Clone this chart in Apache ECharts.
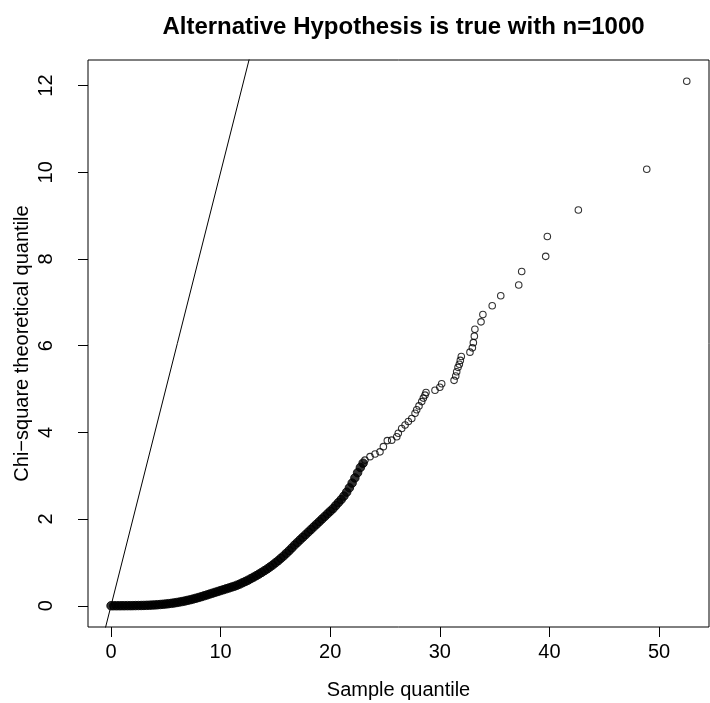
<!DOCTYPE html>
<html><head><meta charset="utf-8">
<script src="https://cdn.jsdelivr.net/npm/echarts@6/dist/echarts.min.js"></script>
<style>html,body{margin:0;padding:0;background:#fff}#c{width:710px;height:703px}</style>
</head><body><div id="c"></div>
<script>
const titleText = 'Alternative Hypothesis is true with n=1000';
const xName = 'Sample quantile';
const yName = 'Chi\u2212square theoretical quantile';
const xTicks = [0, 10, 20, 30, 40, 50];
const yTicks = [0, 2, 4, 6, 8, 10, 12];

// dense part of the Q-Q cloud (overlapping circles, read along the band)
const bandSample = [0,0.25,0.5,0.75,1,1.25,1.5,1.75,2,2.25,2.5,2.75,3,3.25,3.5,3.75,4,4.25,4.5,4.75,5,5.25,5.5,5.75,6,6.25,6.5,6.75,7,7.25,7.5,7.75,8,8.25,8.5,8.75,9,9.25,9.5,9.75,10,10.25,10.5,10.75,11,11.25,11.5,11.75,12,12.25,12.5,12.75,13,13.25,13.5,13.75,14,14.25,14.5,14.75,15,15.25,15.5,15.75,16,16.25,16.5,16.75,17,17.25,17.5,17.75,18,18.25,18.5,18.75,19,19.25,19.5,19.75,20,20.25,20.5,20.75,21,21.25,21.5,21.75,22,22.25,22.5,22.75,23];
const bandTheo = [0,0,0,0,0.001,0.001,0.002,0.002,0.003,0.004,0.005,0.006,0.008,0.010,0.013,0.016,0.02,0.024,0.029,0.035,0.041,0.048,0.056,0.065,0.075,0.086,0.098,0.111,0.125,0.14,0.156,0.173,0.191,0.21,0.23,0.25,0.27,0.29,0.31,0.33,0.35,0.37,0.39,0.41,0.43,0.45,0.475,0.5,0.53,0.56,0.59,0.625,0.66,0.695,0.73,0.77,0.81,0.85,0.895,0.94,0.99,1.04,1.095,1.15,1.21,1.27,1.335,1.4,1.46,1.52,1.58,1.64,1.7,1.76,1.82,1.88,1.94,2.0,2.06,2.12,2.18,2.24,2.31,2.38,2.45,2.53,2.62,2.72,2.83,2.95,3.07,3.19,3.29];

// individually visible circles
const pointSample = [23.17,23.63,24.09,24.54,24.85,25.21,25.61,26.07,26.21,26.52,26.83,27.13,27.44,27.74,27.89,28.1,28.35,28.5,28.65,28.74,29.56,30.0,30.17,31.30,31.45,31.54,31.66,31.78,31.87,31.96,32.75,32.97,33.06,33.15,33.2,33.76,33.93,34.78,35.56,37.20,37.47,39.66,39.81,42.64,48.88,52.53];
const pointTheo = [3.36,3.44,3.50,3.55,3.67,3.81,3.82,3.90,3.98,4.09,4.17,4.25,4.32,4.44,4.52,4.61,4.71,4.79,4.86,4.92,4.97,5.04,5.12,5.20,5.30,5.40,5.50,5.57,5.66,5.75,5.85,5.95,6.07,6.22,6.38,6.55,6.72,6.92,7.15,7.40,7.71,8.06,8.52,9.13,10.07,12.10];

// reference line y = x (intercept 0, slope 1)
const refLineX = [-1, 14];

const FONT = '"Liberation Sans", Arial, Helvetica, sans-serif';
const chart = echarts.init(document.getElementById('c'), null, {renderer: 'canvas'});
chart.setOption({
  animation: false,
  backgroundColor: '#fff',
  title: {
    text: titleText, left: 398.5, top: 10, textAlign: 'center',
    textStyle: {fontFamily: FONT, fontWeight: 'bold', fontSize: 24, color: '#000'}
  },
  grid: {left: 88, right: 1, top: 60, bottom: 76, show: true, borderColor: '#000', borderWidth: 1,
         backgroundColor: 'transparent', containLabel: false, outerBoundsMode: 'none'},
  xAxis: {
    type: 'value', min: -2.1, max: 54.56,
    name: xName, nameLocation: 'middle', nameGap: 53, nameMoveOverlap: false,
    nameTextStyle: {fontFamily: FONT, fontSize: 20, color: '#000', verticalAlign: 'top'},
    axisLine: {show: false, onZero: false},
    splitLine: {show: false},
    axisTick: {show: true, inside: false, length: 10, customValues: xTicks, lineStyle: {color: '#000', width: 1}},
    axisLabel: {show: true, customValues: xTicks, margin: 15, fontFamily: FONT, fontSize: 20, color: '#000'}
  },
  yAxis: {
    type: 'value', min: -0.49, max: 12.59,
    name: yName, nameLocation: 'middle', nameGap: 56, nameRotate: 90, nameMoveOverlap: false,
    nameTextStyle: {fontFamily: FONT, fontSize: 20, color: '#000'},
    axisLine: {show: false, onZero: false},
    splitLine: {show: false},
    axisTick: {show: true, inside: false, length: 10, customValues: yTicks, lineStyle: {color: '#000', width: 1}},
    axisLabel: {show: true, customValues: yTicks, rotate: 90, margin: 32, fontFamily: FONT, fontSize: 20, color: '#000'}
  },
  series: [
    {
      type: 'line', data: refLineX.map(v => [v, v]), showSymbol: false, clip: true,
      lineStyle: {color: '#000', width: 1}, z: 1, silent: true
    },
    {
      type: 'scatter', data: bandSample.map((v, i) => [v, bandTheo[i]]), clip: true,
      symbol: 'circle', symbolSize: 8.5,
      itemStyle: {color: '#000', borderColor: '#000', borderWidth: 1}, z: 2, silent: true
    },
    {
      type: 'scatter', data: pointSample.map((v, i) => [v, pointTheo[i]]), clip: true,
      symbol: 'circle', symbolSize: 6.5,
      itemStyle: {color: 'rgba(255,255,255,0)', borderColor: '#000', borderWidth: 1.1}, z: 3, silent: true
    }
  ]
});
</script>
</body></html>
